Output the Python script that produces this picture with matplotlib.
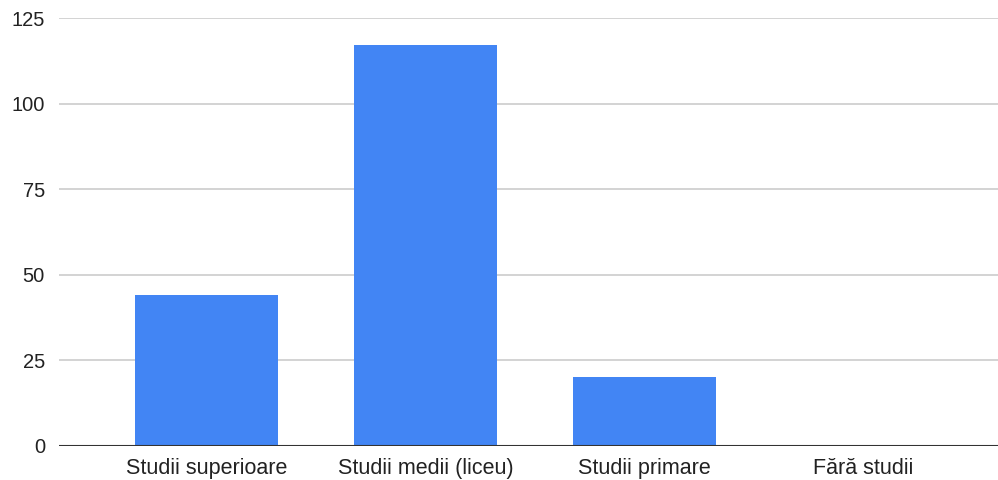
import matplotlib.pyplot as plt
import numpy as np

categories = ['Studii superioare', 'Studii medii (liceu)', 'Studii primare', 'Fără studii']
values = [44, 117, 20, 0]
yticks = [0, 25, 50, 75, 100, 125]

plt.rcParams['font.family'] = ['Liberation Sans', 'DejaVu Sans']

fig = plt.figure(figsize=(9.98, 4.80), dpi=100)
ax = fig.add_axes([0.059, 0.071, 0.941, 0.8915])

x = np.arange(len(categories))
ax.bar(x, values, width=0.653, color='#4285f4', zorder=3)

ax.set_xlim(-0.6735, 3.614)
ax.set_ylim(0, 125)
ax.set_yticks(yticks)
ax.set_xticks(x)
ax.set_xticklabels(categories)

ax.grid(axis='y', color='#cccccc', linewidth=1.2, zorder=0)
ax.axhline(0, color='#333333', linewidth=1.5, zorder=4)

for s in ['top', 'right', 'left', 'bottom']:
    ax.spines[s].set_visible(False)
ax.tick_params(axis='both', length=0, colors='#222222')
ax.tick_params(axis='y', pad=10, labelsize=14.5)
ax.tick_params(axis='x', pad=9, labelsize=15.5)

fig.savefig('out.png', dpi=100)
